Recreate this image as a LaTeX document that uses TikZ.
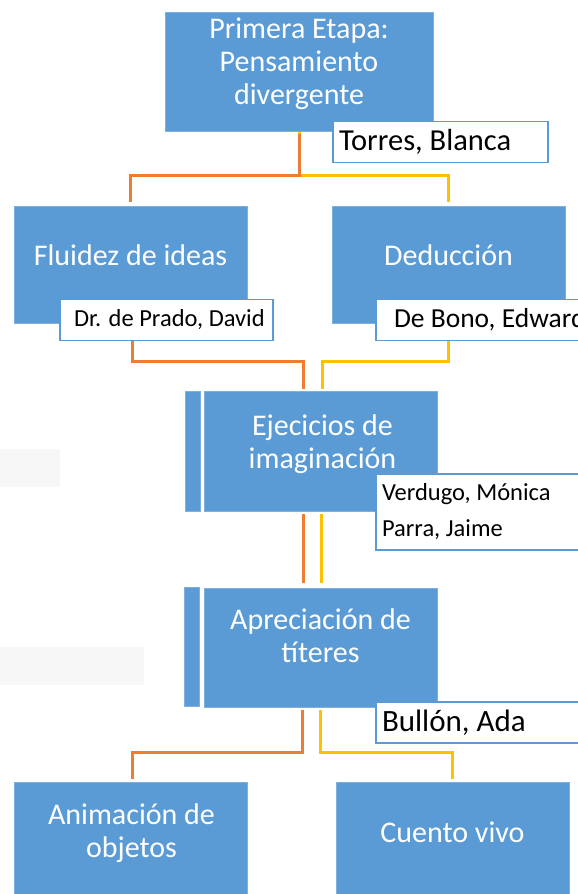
\documentclass[tikz,border=0pt]{standalone}
\usepackage{fontspec}
\setmainfont{Carlito}
\usetikzlibrary{backgrounds}
\definecolor{boxblue}{HTML}{5B9BD5}
\definecolor{boxedge}{HTML}{7DB0DF}
\definecolor{linkorange}{HTML}{ED7D31}
\definecolor{linkyellow}{HTML}{FFC000}
\newcommand\stagefont{\fontsize{30}{33}\selectfont}
\newcommand\tagfont{\fontsize{24.5}{36}\selectfont}
\newcommand\bigtagfont{\fontsize{30.5}{36}\selectfont}
\tikzset{
  stage/.style={draw=boxedge, line width=0.8pt, fill=boxblue, inner sep=0pt,
    minimum width=233pt, minimum height=118pt},
  stage text/.style={text=white, font=\stagefont, align=center, inner sep=0pt},
  side bar/.style={draw=boxedge, line width=0.8pt, fill=boxblue, inner sep=0pt,
    minimum width=15pt, minimum height=119pt},
  name tag/.style={draw=boxblue, line width=1.5pt, fill=white, text=black,
    font=\tagfont, align=flush left, inner ysep=0pt, inner xsep=6pt,
    text width=201pt, minimum height=41pt},
  orange link/.style={linkorange, line width=3pt},
  yellow link/.style={linkyellow, line width=3pt},
}
\begin{document}
\begin{tikzpicture}[x=1pt, y=-1pt]
  \useasboundingbox (0,0) rectangle (578,894);
  \fill[black!3] (0,449) rectangle (60,487);
  \fill[black!3] (0,647) rectangle (144,685);

  \node[stage, minimum width=268pt, minimum height=119pt] (etapa) at (299,71.5) {};
  \node[stage text] (etapa text) at ([yshift=8pt]etapa.center) {Primera Etapa:\\Pensamiento\\divergente};
  \node[name tag, font=\bigtagfont, text width=203pt] (torres) at (440.5,142) {Torres, Blanca};

  \node[stage, minimum height=117pt] (fluidez) at (130.5,264.5) {};
  \node[stage text] (fluidez text) at ([yshift=9pt]fluidez.center) {Fluidez de ideas};
  \node[name tag] (prado) at (166.5,320) {\hspace*{8pt}Dr. de Prado, David};

  \node[stage, minimum height=117pt] (deduccion) at (448.5,264.5) {};
  \node[stage text] (deduccion text) at ([yshift=9pt]deduccion.center) {Deducción};
  \node[name tag, font=\fontsize{27.5}{36}\selectfont, text width=210pt, inner xsep=18pt] (bono) at (499,320) {De Bono, Edward};

  \node[side bar, minimum height=120pt] (ejercicios bar) at (192.5,451) {};
  \node[stage, minimum height=120pt] (ejercicios) at (320.5,451) {};
  \node[stage text] (ejercicios text) at ([xshift=2pt,yshift=7pt]ejercicios.center) {Ejecicios de\\imaginación};
  \node[name tag, minimum height=76pt] (verdugo) at (482.5,512) {Verdugo, Mónica\\Parra, Jaime};

  \node[side bar] (apreciacion bar) at (192,646.5) {};
  \node[stage, minimum height=119pt] (apreciacion) at (320.5,647.5) {};
  \node[stage text] (apreciacion text) at ([yshift=12pt]apreciacion.center) {Apreciación de\\títeres};
  \node[name tag, font=\fontsize{31}{36}\selectfont] (bullon) at (482.5,722.5) {Bullón, Ada};

  \node[stage] (animacion) at (130.5,841) {};
  \node[stage text] (animacion text) at ([xshift=1pt,yshift=8pt]animacion.center) {Animación de\\objetos};
  \node[stage] (cuento) at (452.5,841) {};
  \node[stage text] (cuento text) at ([yshift=9pt]cuento.center) {Cuento vivo};

  \begin{scope}[on background layer]
    \draw[yellow link, shorten >=4pt] (etapa.south) -- ++(0,44) -| (deduccion.north);
    \draw[orange link, shorten <=3pt, shorten >=4pt] (etapa.south) -- ++(0,44) -| (fluidez.north);
    \draw[orange link, shorten >=2pt] ([xshift=1.5pt]fluidez.south) -- ++(0,38) -| ([xshift=-17pt]ejercicios.north);
    \draw[yellow link, shorten >=2pt] (deduccion.south) -- ++(0,38) -| ([xshift=1.5pt]ejercicios.north);
    \draw[orange link, shorten <=3pt, shorten >=5pt] ([xshift=-17pt]ejercicios.south) -- ([xshift=-17pt]apreciacion.north);
    \draw[yellow link, shorten <=3pt, shorten >=5pt] ([xshift=0.5pt]ejercicios.south) -- ([xshift=0.5pt]apreciacion.north);
    \draw[orange link, shorten <=3pt, shorten >=3pt] ([xshift=-18pt]apreciacion.south) -- ++(0,45) -| ([xshift=1.5pt]animacion.north);
    \draw[yellow link, shorten <=3pt, shorten >=3pt] (apreciacion.south) -- ++(0,45) -| (cuento.north);
  \end{scope}
\end{tikzpicture}
\end{document}
